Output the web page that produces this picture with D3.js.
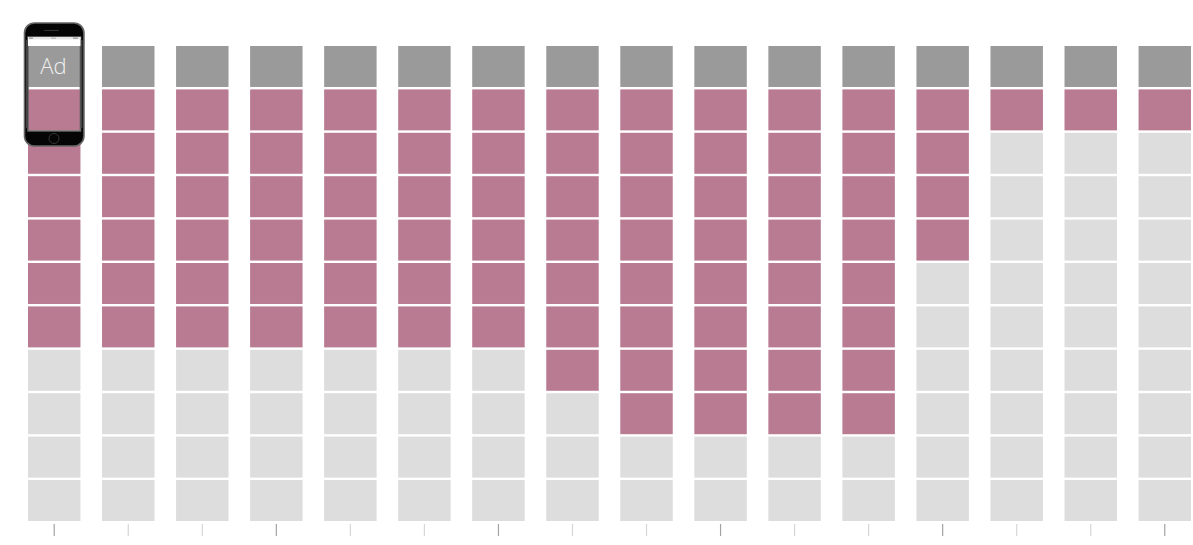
<!DOCTYPE html>
<html><head><meta charset="utf-8">
<script src="https://cdn.jsdelivr.net/npm/d3@7/dist/d3.min.js"></script>
<style>html,body{margin:0;padding:0;background:#fff;overflow:hidden}svg{display:block}</style>
</head><body><svg id="c" width="1193" height="545"></svg>
<script>
const columns = d3.range(1, 17);
const filledCounts = [6,6,6,6,6,6,6,7,8,8,8,8,4,1,1,1];
const adRows = 1;
const totalRows = 11;
const majorEvery = 3;
const adLabel = "Ad";
const colors = {ad:"#9a9a9a", filled:"#b97b92", empty:"#dddddd", major:"#a3a3a3", minor:"#d6d6d6"};

const svg = d3.select("#c");
const x = d3.scaleBand().domain(columns).range([28, 1191]).paddingInner(0.2915).paddingOuter(0);
const y = d3.scaleBand().domain(d3.range(totalRows)).range([46, 521]).paddingInner(0.056).paddingOuter(0);

const cells = columns.flatMap((c,i)=>d3.range(totalRows).map(r=>({c,r,
  kind: r<adRows ? "ad" : r<adRows+filledCounts[i] ? "filled" : "empty"})));
svg.append("g").selectAll("rect").data(cells).join("rect")
  .attr("x",d=>x(d.c)).attr("y",d=>y(d.r))
  .attr("width",x.bandwidth()).attr("height",y.bandwidth())
  .attr("fill",d=>colors[d.kind]);

// axis: ticks only, every third one darker
const axis = svg.append("g").attr("transform","translate(0,524)")
  .call(d3.axisBottom(x).tickSize(12).tickFormat(""));
axis.select(".domain").remove();
axis.selectAll(".tick line")
  .attr("stroke",(d,i)=>i%majorEvery===0?colors.major:colors.minor)
  .attr("stroke-width",1.2);

// phone overlay around the first column
const px=x(columns[0]), pw=x.bandwidth();
const phone = svg.append("g");
const ox=px-3.5, oy=23, ow=pw+7, oh=123, r=10;
const sx=px, sy=37, sw=pw, sh=94;
phone.append("path").attr("fill-rule","evenodd").attr("fill","#050505")
  .attr("stroke","#666").attr("stroke-width",1.6)
  .attr("d",`M${ox+r},${oy}h${ow-2*r}a${r},${r} 0 0 1 ${r},${r}v${oh-2*r}a${r},${r} 0 0 1 -${r},${r}h-${ow-2*r}a${r},${r} 0 0 1 -${r},-${r}v-${oh-2*r}a${r},${r} 0 0 1 ${r},-${r}z`+
      `M${sx},${sy}v${sh}h${sw}v-${sh}z`);
phone.append("rect").attr("x",sx-2).attr("y",sy+3).attr("width",2).attr("height",sh-6).attr("fill","#444");
phone.append("rect").attr("x",sx+sw).attr("y",sy+3).attr("width",2).attr("height",sh-6).attr("fill","#444");
phone.append("rect").attr("x",sx).attr("y",sy).attr("width",sw).attr("height",9).attr("fill","#fff");
phone.append("rect").attr("x",sx).attr("y",sy).attr("width",sw).attr("height",2.4).attr("fill","#e6e6e6");
phone.append("rect").attr("x",sx+1).attr("y",37.6).attr("width",4).attr("height",1.1).attr("fill","#8a8a8a");
phone.append("rect").attr("x",sx+23).attr("y",37.6).attr("width",5).attr("height",1.1).attr("fill","#b0b0b0");
phone.append("rect").attr("x",sx+45).attr("y",37.6).attr("width",5).attr("height",1.1).attr("fill","#8a8a8a");
phone.append("rect").attr("x",44).attr("y",30).attr("width",15).attr("height",1).attr("rx",.5).attr("fill","#333");
phone.append("circle").attr("cx",54).attr("cy",138.5).attr("r",5).attr("fill","#050505").attr("stroke","#3c3c3c").attr("stroke-width",.9);
phone.append("text").attr("x",53.5).attr("y",73.5).attr("text-anchor","middle")
  .attr("font-family","'Open Sans','Noto Sans',sans-serif").attr("font-weight",300)
  .attr("font-size",22).attr("fill","#f0f0f0").text(adLabel);
</script></body></html>
